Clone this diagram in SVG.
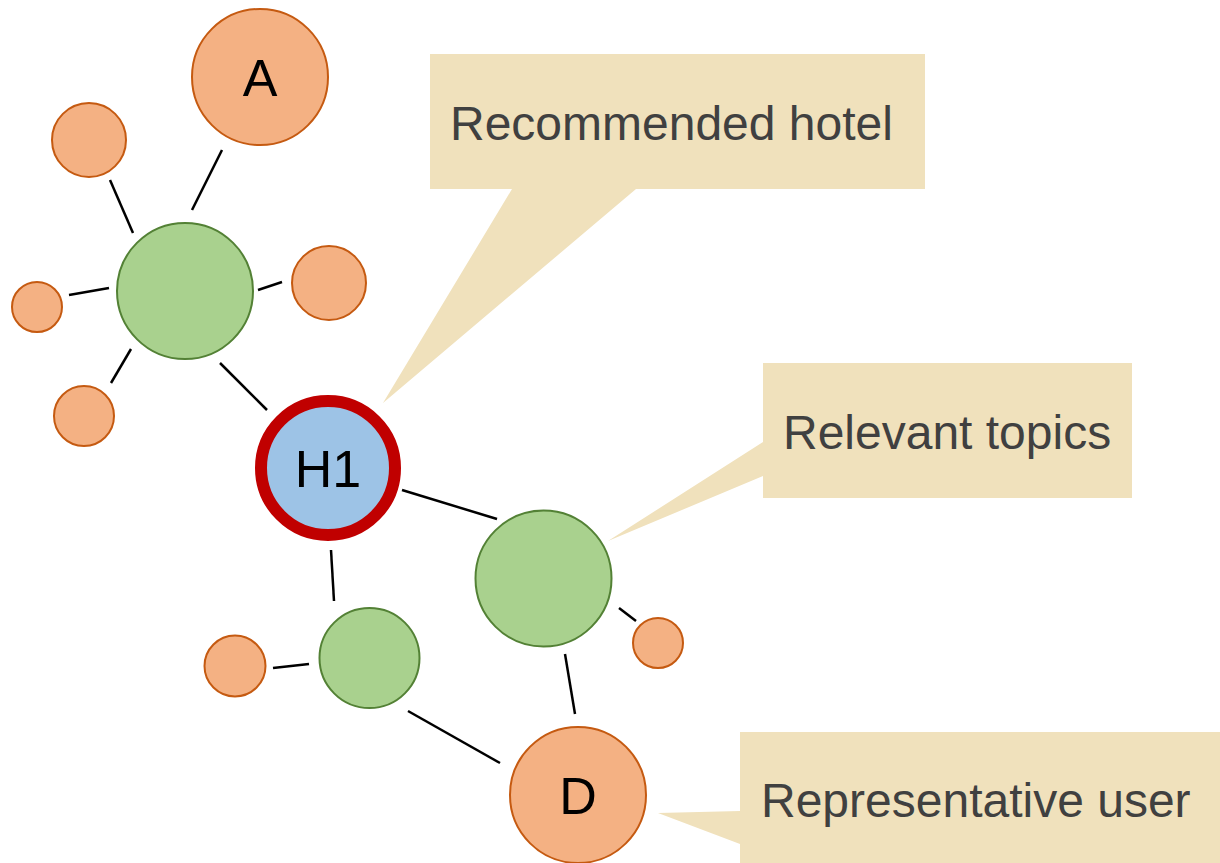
<svg xmlns="http://www.w3.org/2000/svg" width="1220" height="863" viewBox="0 0 1220 863">
<style>
.o{fill:#F4B183;stroke:#C55A11;stroke-width:2}
.g{fill:#A9D18E;stroke:#538135;stroke-width:2}
.h{fill:#9DC3E6;stroke:#C00000;stroke-width:12}
.c{fill:#F0E1BC}
.lbl{font-family:"Liberation Sans",Arial,sans-serif;font-size:52px;fill:#000;text-anchor:middle}
.ct{font-family:"Liberation Sans",Arial,sans-serif;font-size:48px;fill:#404040}
#edges line{stroke:#000;stroke-width:2.5}
</style>
<rect width="1220" height="863" fill="#fff"/>
<g id="edges">
<line x1="110" y1="180" x2="133" y2="233"/>
<line x1="222" y1="150" x2="192" y2="210"/>
<line x1="69" y1="295" x2="109" y2="288"/>
<line x1="258" y1="290" x2="282" y2="282"/>
<line x1="131" y1="349" x2="111" y2="383"/>
<line x1="220" y1="363" x2="267" y2="410"/>
<line x1="402" y1="490" x2="497" y2="519"/>
<line x1="331" y1="550" x2="334" y2="601"/>
<line x1="273" y1="668" x2="309" y2="664"/>
<line x1="619" y1="608" x2="636" y2="621"/>
<line x1="565" y1="654" x2="575" y2="714"/>
<line x1="408" y1="711" x2="500" y2="763"/>
</g>
<g id="callout-hotel">
<path class="c" d="M430,54 H925 V189 H636 L383,403 L512,189 H430 Z"/>
<text class="ct" x="450" y="140">Recommended hotel</text>
</g>
<g id="callout-topics">
<path class="c" d="M763,363 H1132 V498 H763 V476 L608,541 L763,442 Z"/>
<text class="ct" x="783" y="449">Relevant topics</text>
</g>
<g id="callout-user">
<path class="c" d="M740,732 H1220 V863 H740 V844 L658,813 L740,811 Z"/>
<text class="ct" x="761" y="817">Representative user</text>
</g>
<g id="node-A"><circle class="o" cx="260" cy="77" r="68"/><text class="lbl" x="260" y="96">A</text></g>
<g id="node-u1"><circle class="o" cx="89" cy="140" r="37"/></g>
<g id="node-t1"><circle class="g" cx="185" cy="291" r="68"/></g>
<g id="node-u2"><circle class="o" cx="329" cy="283" r="37"/></g>
<g id="node-u3"><circle class="o" cx="37" cy="307" r="25"/></g>
<g id="node-u4"><circle class="o" cx="84" cy="416" r="30"/></g>
<g id="node-H1"><circle class="h" cx="328" cy="468" r="67"/><text class="lbl" x="328" y="487">H1</text></g>
<g id="node-t2"><circle class="g" cx="543.5" cy="578.5" r="68"/></g>
<g id="node-u5"><circle class="o" cx="658" cy="643" r="25"/></g>
<g id="node-t3"><circle class="g" cx="369.5" cy="658" r="50"/></g>
<g id="node-u6"><circle class="o" cx="235" cy="666" r="30.5"/></g>
<g id="node-D"><circle class="o" cx="578" cy="795" r="68"/><text class="lbl" x="578" y="814">D</text></g>
</svg>
